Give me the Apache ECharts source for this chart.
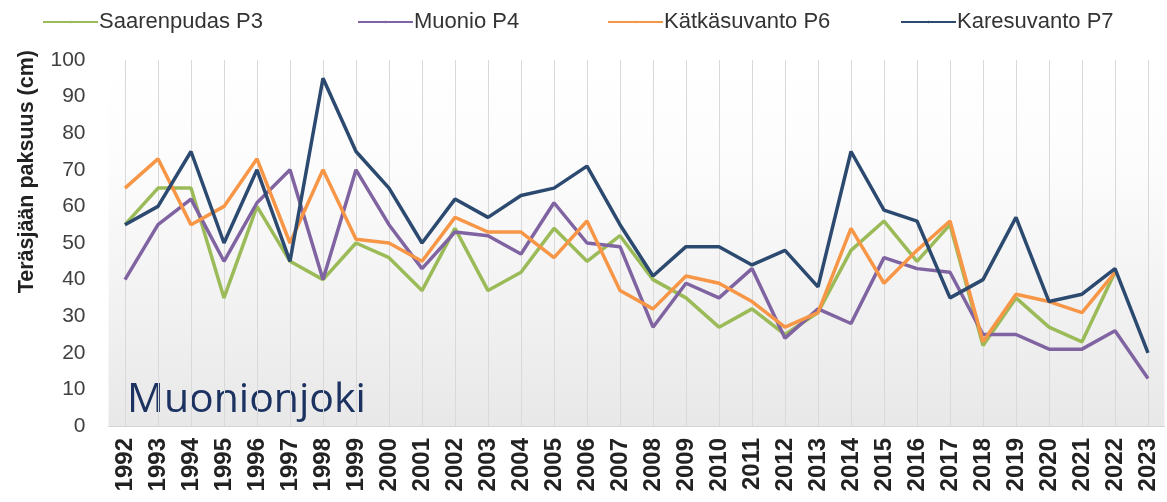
<!DOCTYPE html>
<html>
<head>
<meta charset="utf-8">
<script src="https://cdn.jsdelivr.net/npm/echarts@6/dist/echarts.min.js"></script>
<style>
html,body{margin:0;padding:0;background:#fff;}
#chart{width:1167px;height:502px;}
</style>
</head>
<body>
<div id="chart"></div>
<script>
const years = ['1992','1993','1994','1995','1996','1997','1998','1999','2000','2001','2002','2003','2004','2005','2006','2007','2008','2009','2010','2011','2012','2013','2014','2015','2016','2017','2018','2019','2020','2021','2022','2023'];
const seriesNames = ['Saarenpudas P3','Muonio P4','Kätkäsuvanto P6','Karesuvanto P7'];
const saarenpudas = [55,65,65,35,60,45,40,50,46,37,54,37,42,54,45,52,40,35,27,32,25,31,48,56,45,55,22,35,27,23,42,null];
const muonio = [40,55,62,45,61,70,40,70,55,43,53,52,47,61,50,49,27,39,35,43,24,32,28,46,43,42,25,25,21,21,26,13];
const katkasuvanto = [65,73,55,60,73,50,70,51,50,45,57,53,53,46,56,37,32,41,39,34,27,31,54,39,48,56,23,36,34,31,42,null];
const karesuvanto = [55,60,75,50,70,45,95,75,65,50,62,57,63,65,71,55,41,49,49,44,48,38,75,59,56,35,40,57,34,36,43,20];
const yTitle = 'Teräsjään paksuus (cm)';
const riverName = 'Muonionjoki';

const colors = ['#9bbb59','#8064a2','#f79646','#2c4a70'];
const values = [saarenpudas, muonio, katkasuvanto, karesuvanto];
const legendLefts = [37, 352, 602, 895];

const chart = echarts.init(document.getElementById('chart'));
chart.setOption({
  animation: false,
  color: colors,
  legend: seriesNames.map((n, i) => ({
    data: [n],
    left: legendLefts[i],
    top: 6,
    itemWidth: 55,
    itemHeight: 3,
    textStyle: {fontFamily: 'Liberation Sans', fontSize: 22, color: '#333', padding: [0, 0, 0, -4]}
  })),
  grid: {
    left: 108.5, right: 2.5, top: 60, bottom: 76,
    show: true, borderWidth: 0,
    backgroundColor: new echarts.graphic.LinearGradient(0, 0, 0, 1, [
      {offset: 0, color: '#ffffff'},
      {offset: 0.3, color: '#fcfcfc'},
      {offset: 1, color: '#e8e8e8'}
    ])
  },
  xAxis: {
    type: 'category',
    data: years,
    boundaryGap: true,
    axisLine: {show: true, lineStyle: {color: '#d4d4d4', width: 1}},
    axisTick: {show: false},
    splitLine: {show: true, alignWithLabel: true, lineStyle: {color: '#d9d9d9', width: 1}},
    axisLabel: {rotate: 90, margin: 12, fontFamily: 'Liberation Sans', fontWeight: 'bold', fontSize: 24, color: '#222', interval: 0}
  },
  yAxis: {
    type: 'value',
    min: 0, max: 100, interval: 10,
    axisLine: {show: false},
    axisTick: {show: false},
    splitLine: {show: false},
    axisLabel: {margin: 23, fontFamily: 'Liberation Sans', fontSize: 21, color: '#404040'}
  },
  graphic: [
    {
      type: 'text',
      left: 16, top: 50,
      rotation: Math.PI / 2,
      style: {text: yTitle, fontFamily: 'Liberation Sans', fontWeight: 'bold', fontSize: 21.5, fill: '#222'}
    },
    {
      type: 'text',
      left: 127, top: 380,
      style: {text: riverName, fontFamily: 'Open Sans', fontSize: 41, fill: '#1c3361'}
    }
  ],
  series: values.map((v, i) => ({
    name: seriesNames[i],
    type: 'line',
    data: v,
    symbol: 'none',
    lineStyle: {width: 3.5, color: colors[i]},
    itemStyle: {color: colors[i]},
    z: 2 + (i === 3 ? 1 : 0)
  }))
});
</script>
</body>
</html>
